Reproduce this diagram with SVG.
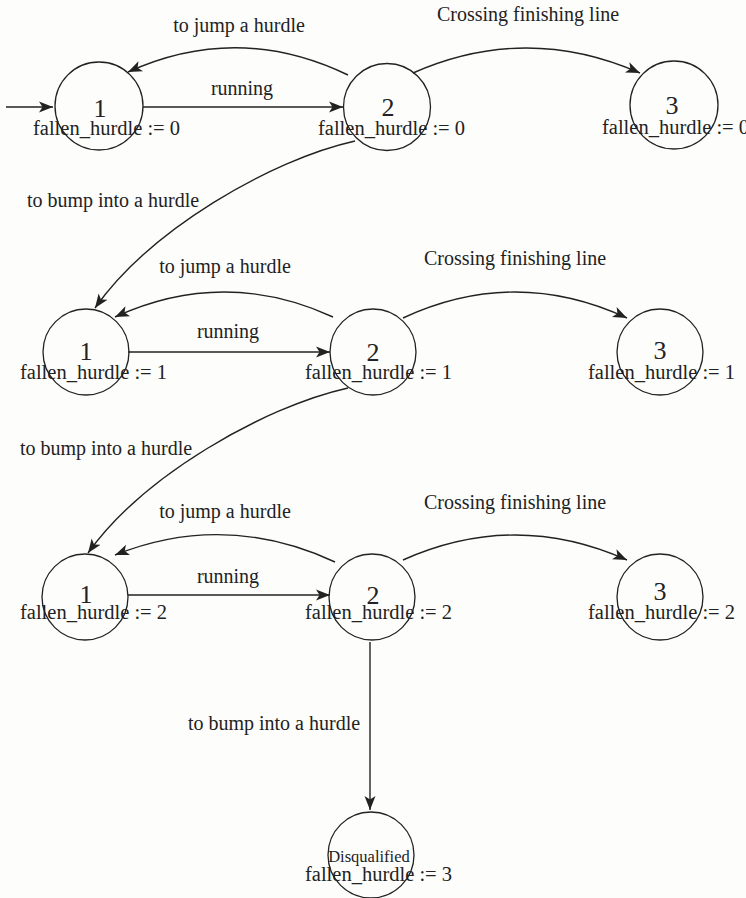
<svg xmlns="http://www.w3.org/2000/svg" width="746" height="898" viewBox="0 0 746 898">
  <style>
    .bg { fill: #fdfdfc; }
    .state { fill: none; stroke: #222; stroke-width: 1.3; }
    .edge { fill: none; stroke: #222; stroke-width: 1.4; marker-end: url(#arrow); }
    text { font-family: "Liberation Serif", "Times New Roman", serif; fill: #222; }
    .num { font-size: 26px; text-anchor: middle; }
    .var { font-size: 20.5px; }
    .lbl { font-size: 20px; text-anchor: middle; }
    .small { font-size: 16.5px; text-anchor: middle; }
  </style>
  <defs>
    <marker id="arrow" markerUnits="userSpaceOnUse" markerWidth="16" markerHeight="12" refX="14" refY="6" orient="auto">
      <path d="M0,0.5 L14,6 L0,11.5 L3.5,6 Z" fill="#222"/>
    </marker>
  </defs>
  <rect class="bg" x="0" y="0" width="746" height="898"/>

  <!-- transitions -->
  <g id="connectors">
    <!-- initial arrow -->
    <path class="edge" d="M6,107 L53,107"/>
    <!-- row with fallen_hurdle = 0 -->
    <path class="edge" d="M143,107 L343,107"/>
    <path class="edge" d="M348,75 Q238,22 128,72"/>
    <path class="edge" d="M413,73 Q526,23 640,73"/>
    <path class="edge" d="M355,141 C270,160 150,230 95,308"/>
    <!-- row with fallen_hurdle = 1 -->
    <path class="edge" d="M128,352 L330,352"/>
    <path class="edge" d="M333,317 Q224,267 115,317"/>
    <path class="edge" d="M403,318 Q515,266 627,318"/>
    <path class="edge" d="M348,388 C263,407 143,476 88,553"/>
    <!-- row with fallen_hurdle = 2 -->
    <path class="edge" d="M128,595 L330,595"/>
    <path class="edge" d="M335,562 Q225,511 115,555"/>
    <path class="edge" d="M403,560 Q515,510 627,560"/>
    <path class="edge" d="M370,642 L370,810"/>
  </g>

  <!-- transition labels -->
  <g id="edge-labels">
    <text class="lbl" x="239" y="32">to jump a hurdle</text>
    <text class="lbl" x="242" y="95">running</text>
    <text class="lbl" x="528" y="21">Crossing finishing line</text>
    <text class="lbl" x="113" y="207">to bump into a hurdle</text>

    <text class="lbl" x="225" y="273">to jump a hurdle</text>
    <text class="lbl" x="228" y="338">running</text>
    <text class="lbl" x="515" y="265">Crossing finishing line</text>
    <text class="lbl" x="106" y="455">to bump into a hurdle</text>

    <text class="lbl" x="225" y="518">to jump a hurdle</text>
    <text class="lbl" x="228" y="583">running</text>
    <text class="lbl" x="515" y="509">Crossing finishing line</text>
    <text class="lbl" x="274" y="730">to bump into a hurdle</text>
  </g>

  <!-- states, fallen_hurdle = 0 -->
  <g id="s1-0">
    <circle class="state" cx="99" cy="106" r="44"/>
    <text class="num" x="100" y="117">1</text>
    <text class="var" x="33" y="135">fallen_hurdle := 0</text>
  </g>
  <g id="s2-0">
    <circle class="state" cx="387" cy="107" r="43.5"/>
    <text class="num" x="388" y="116">2</text>
    <text class="var" x="318" y="135">fallen_hurdle := 0</text>
  </g>
  <g id="s3-0">
    <circle class="state" cx="674" cy="105" r="44"/>
    <text class="num" x="672" y="114">3</text>
    <text class="var" x="602" y="134">fallen_hurdle := 0</text>
  </g>

  <!-- states, fallen_hurdle = 1 -->
  <g id="s1-1">
    <circle class="state" cx="86" cy="352" r="43"/>
    <text class="num" x="86" y="360">1</text>
    <text class="var" x="20" y="379">fallen_hurdle := 1</text>
  </g>
  <g id="s2-1">
    <circle class="state" cx="373" cy="352" r="43"/>
    <text class="num" x="373" y="361">2</text>
    <text class="var" x="305" y="379">fallen_hurdle := 1</text>
  </g>
  <g id="s3-1">
    <circle class="state" cx="660" cy="352" r="43"/>
    <text class="num" x="660" y="359">3</text>
    <text class="var" x="588" y="379">fallen_hurdle := 1</text>
  </g>

  <!-- states, fallen_hurdle = 2 -->
  <g id="s1-2">
    <circle class="state" cx="85" cy="597" r="43"/>
    <text class="num" x="86" y="603">1</text>
    <text class="var" x="20" y="619">fallen_hurdle := 2</text>
  </g>
  <g id="s2-2">
    <circle class="state" cx="372" cy="597" r="43"/>
    <text class="num" x="373" y="604">2</text>
    <text class="var" x="305" y="619">fallen_hurdle := 2</text>
  </g>
  <g id="s3-2">
    <circle class="state" cx="660" cy="597" r="43"/>
    <text class="num" x="660" y="600">3</text>
    <text class="var" x="588" y="619">fallen_hurdle := 2</text>
  </g>

  <!-- final state -->
  <g id="disqualified">
    <circle class="state" cx="371" cy="855" r="43"/>
    <text class="small" x="369" y="862">Disqualified</text>
    <text class="var" x="305" y="881">fallen_hurdle := 3</text>
  </g>
</svg>
